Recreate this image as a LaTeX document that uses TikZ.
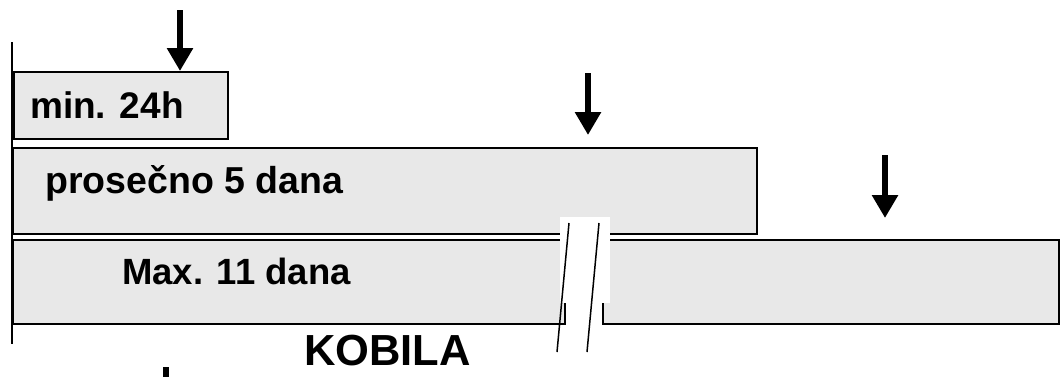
\documentclass[tikz,border=0pt]{standalone}
\usepackage{fontspec}
\setmainfont{Liberation Sans}
\usepackage{tikz}
\usetikzlibrary{arrows.meta}
\definecolor{barfill}{RGB}{232,232,232}

\begin{document}
\begin{tikzpicture}[x=1pt, y=-1pt,
    bar/.style={fill=barfill, draw=black, line width=2pt, inner sep=0pt, anchor=north west},
    txt/.style={inner sep=0pt, anchor=base west, font=\bfseries\fontsize{#1}{40}\selectfont},
    txt/.default=36,
    down/.style={line width=6.5pt, -{Triangle[width=25pt, length=23pt]}}]
  \clip (0,0) rectangle (1064,376);

   % time axis
   \draw[line width=1.5pt] (12,42) -- (12,344);

   % bars
   \node[bar, minimum width=214pt, minimum height=67pt] (min) at (13,71) {};
   \node[bar, minimum width=744pt, minimum height=86pt] (avg) at (12,147) {};
   \node[bar, minimum width=552pt, minimum height=84pt] (maxl) at (12,239) {};
   \node[bar, minimum width=456pt, minimum height=84pt] (maxr) at (602,239) {};

   % break
   \fill[white] (560,217) rectangle (610,303);
   \fill[white] (maxl.south east) ++(1,-18) rectangle ([xshift=-1pt]maxr.south west);
   \coordinate (s1a) at (569,223);
   \coordinate (s1b) at (557,352);
   \coordinate (s2a) at (599,223);
   \coordinate (s2b) at (587,352);
   \draw[line width=1.5pt] (s1a) -- (s1b);
   \draw[line width=1.5pt] (s2a) -- (s2b);

   % labels
   \node[txt=37] (tmin) at (30,118) {min. 24h};
   \node[txt=37.5] (tavg) at (45,193) {prosečno 5 dana};
   \node[txt=36.5] (tmax) at (122,284) {Max. 11 dana};
   \node[txt=43.5] (tkob) at (304,365) {KOBILA};

   % arrows
   \coordinate (a1) at (180,10);
   \coordinate (a2) at (588,73);
   \coordinate (e2) at (588,135);
   \coordinate (a3) at (885,155);
   \coordinate (e3) at (885,218);
   \coordinate (a4) at (166,367);
   \coordinate (e4) at (166,430);
   \draw[down] (a1) -- (a1 |- min.north);
   \draw[down] (a2) -- (e2);
   \draw[down] (a3) -- (e3);
   \draw[down] (a4) -- (e4);
\end{tikzpicture}
\end{document}
